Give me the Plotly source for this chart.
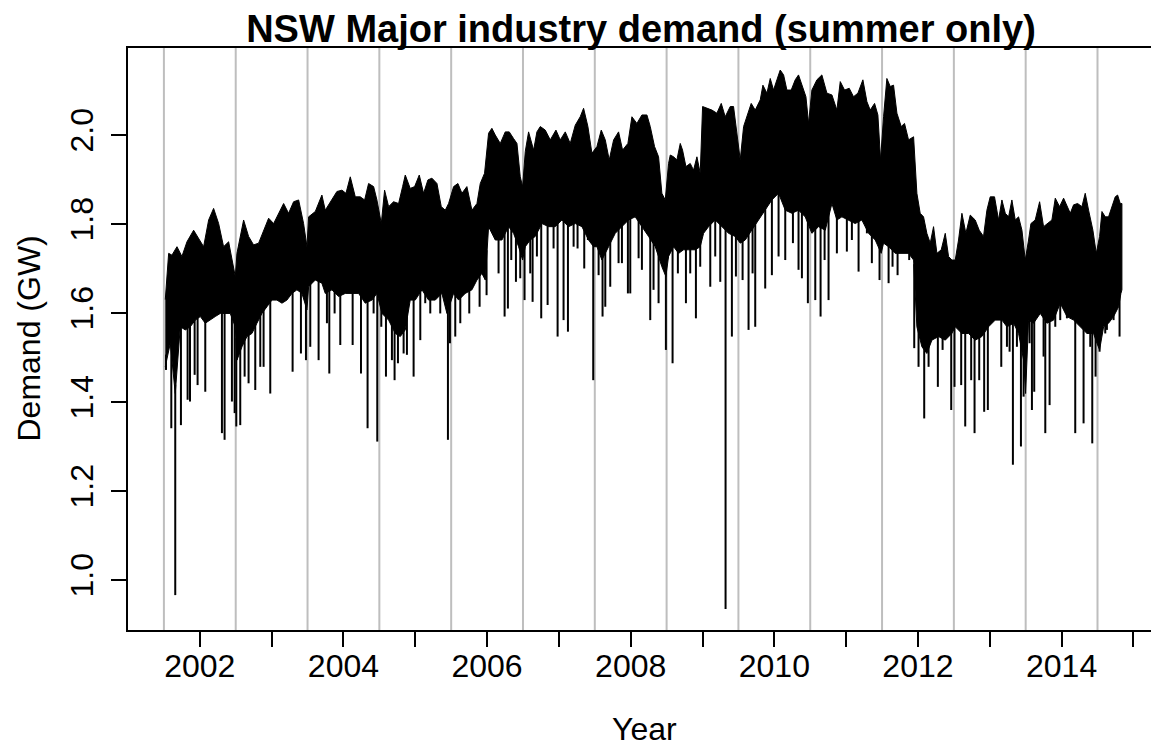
import numpy as np
import plotly.graph_objects as go

# ---------------- data (year, GW) ----------------
upper_year = [
    2001.519, 2001.566, 2001.612, 2001.682, 2001.751, 2001.821, 2001.914, 2001.983, 2002.053, 2002.123, 2002.192, 2002.262, 2002.331, 2002.401, 2002.447, 2002.494,
    2002.517, 2002.610, 2002.679, 2002.749, 2002.819, 2002.888, 2002.958, 2003.028, 2003.097, 2003.167, 2003.236, 2003.306, 2003.376, 2003.445, 2003.492,
    2003.515, 2003.608, 2003.700, 2003.747, 2003.840, 2003.909, 2003.979, 2004.035, 2004.095, 2004.165, 2004.234, 2004.295, 2004.350, 2004.420, 2004.466,
    2004.527, 2004.573, 2004.629, 2004.698, 2004.768, 2004.824, 2004.861, 2004.930, 2004.991, 2005.056, 2005.116, 2005.176, 2005.232, 2005.302, 2005.362, 2005.418, 2005.464,
    2005.534, 2005.594, 2005.650, 2005.719, 2005.789, 2005.859, 2005.905, 2005.965, 2006.021, 2006.067, 2006.114, 2006.184, 2006.253, 2006.309, 2006.369, 2006.416, 2006.462, 2006.495,
    2006.532, 2006.578, 2006.648, 2006.694, 2006.741, 2006.810, 2006.880, 2006.959, 2007.019, 2007.089, 2007.158, 2007.228, 2007.297, 2007.344, 2007.404, 2007.460,
    2007.530, 2007.590, 2007.646, 2007.701, 2007.762, 2007.831, 2007.887, 2007.961, 2008.017, 2008.086, 2008.156, 2008.226, 2008.272, 2008.332, 2008.388, 2008.434, 2008.481,
    2008.527, 2008.551, 2008.597, 2008.643, 2008.690, 2008.722, 2008.769, 2008.829, 2008.875, 2008.922, 2008.968, 2009.001, 2009.061, 2009.131, 2009.200, 2009.261, 2009.316, 2009.386, 2009.432, 2009.465,
    2009.525, 2009.572, 2009.618, 2009.678, 2009.734, 2009.804, 2009.841, 2009.897, 2009.943, 2009.989, 2010.036, 2010.082, 2010.129, 2010.175, 2010.235, 2010.291, 2010.337, 2010.393, 2010.440, 2010.477,
    2010.523, 2010.593, 2010.662, 2010.732, 2010.802, 2010.871, 2010.918, 2010.978, 2011.043, 2011.103, 2011.164, 2011.233, 2011.289, 2011.335, 2011.396, 2011.442, 2011.479,
    2011.521, 2011.567, 2011.614, 2011.660, 2011.707, 2011.767, 2011.813, 2011.869, 2011.939, 2011.985, 2012.031, 2012.078, 2012.124, 2012.171, 2012.217, 2012.264, 2012.324, 2012.380, 2012.426, 2012.472,
    2012.519, 2012.565, 2012.612, 2012.667, 2012.728, 2012.797, 2012.853, 2012.913, 2012.960, 2013.006, 2013.066, 2013.122, 2013.169, 2013.216, 2013.262, 2013.308, 2013.355, 2013.401, 2013.448, 2013.494,
    2013.540, 2013.573, 2013.633, 2013.694, 2013.749, 2013.805, 2013.865, 2013.912, 2013.972, 2014.028, 2014.074, 2014.121, 2014.167, 2014.223, 2014.283, 2014.329, 2014.376, 2014.436, 2014.483,
    2014.529, 2014.562, 2014.608, 2014.654, 2014.701, 2014.747, 2014.780, 2014.817, 2014.840,
]
upper_gw = [
    1.630, 1.734, 1.730, 1.749, 1.727, 1.760, 1.786, 1.768, 1.749, 1.809, 1.835, 1.801, 1.749, 1.760, 1.719, 1.682,
    1.734, 1.809, 1.772, 1.753, 1.757, 1.786, 1.813, 1.801, 1.824, 1.846, 1.824, 1.850, 1.854, 1.801, 1.749,
    1.816, 1.828, 1.865, 1.831, 1.854, 1.873, 1.876, 1.869, 1.906, 1.861, 1.861, 1.854, 1.891, 1.884, 1.854,
    1.801, 1.876, 1.839, 1.850, 1.846, 1.884, 1.910, 1.880, 1.884, 1.910, 1.869, 1.899, 1.903, 1.891, 1.839, 1.831, 1.846,
    1.884, 1.891, 1.869, 1.884, 1.831, 1.846, 1.891, 1.914, 2.004, 2.015, 2.000, 1.981, 2.007, 2.007, 1.992, 1.981, 1.906, 1.884,
    1.963, 2.007, 1.966, 2.007, 2.019, 2.011, 1.989, 2.011, 1.989, 2.007, 1.981, 2.022, 2.041, 2.060, 2.019, 1.959,
    1.974, 2.011, 1.989, 1.944, 1.989, 2.007, 1.966, 1.981, 2.041, 2.026, 2.045, 2.045, 2.019, 1.974, 1.951, 1.869, 1.854,
    1.936, 1.955, 1.951, 1.944, 1.981, 1.966, 1.929, 1.936, 1.921, 1.951, 1.914, 2.064, 2.060, 2.056, 2.049, 2.071, 2.041, 2.064, 2.064, 2.019,
    1.944, 2.019, 2.041, 2.071, 2.056, 2.079, 2.112, 2.094, 2.127, 2.101, 2.124, 2.146, 2.135, 2.101, 2.101, 2.124, 2.135, 2.109, 2.086, 2.026,
    2.101, 2.124, 2.135, 2.094, 2.090, 2.056, 2.120, 2.101, 2.105, 2.086, 2.094, 2.124, 2.075, 2.056, 2.071, 2.045, 1.944,
    2.041, 2.127, 2.109, 2.112, 2.049, 2.019, 2.026, 1.989, 1.996, 1.869, 1.824, 1.816, 1.779, 1.757, 1.794, 1.734, 1.742, 1.779, 1.727, 1.719,
    1.719, 1.764, 1.824, 1.779, 1.820, 1.809, 1.786, 1.772, 1.831, 1.861, 1.861, 1.809, 1.854, 1.824, 1.816, 1.854, 1.809, 1.816, 1.786, 1.719,
    1.764, 1.801, 1.809, 1.850, 1.794, 1.801, 1.809, 1.858, 1.839, 1.858, 1.839, 1.824, 1.843, 1.846, 1.839, 1.869, 1.831, 1.786, 1.734,
    1.772, 1.828, 1.816, 1.816, 1.839, 1.861, 1.865, 1.846, 1.846,
]

lower_year = [
    2001.519, 2001.589, 2001.658, 2001.728, 2001.798, 2001.867, 2001.937, 2002.007, 2002.076, 2002.146, 2002.215, 2002.285, 2002.355, 2002.424, 2002.494,
    2002.517, 2002.587, 2002.656, 2002.726, 2002.795, 2002.865, 2002.935, 2003.004, 2003.074, 2003.144, 2003.213, 2003.283, 2003.352, 2003.422, 2003.492,
    2003.515, 2003.608, 2003.700, 2003.747, 2003.840, 2003.933, 2004.025, 2004.118, 2004.211, 2004.304, 2004.397, 2004.466,
    2004.536, 2004.629, 2004.722, 2004.791, 2004.861, 2004.930, 2005.000, 2005.093, 2005.186, 2005.279, 2005.371, 2005.441,
    2005.534, 2005.604, 2005.696, 2005.789, 2005.859, 2005.928, 2005.975, 2006.021, 2006.067, 2006.114, 2006.207, 2006.300, 2006.369, 2006.439, 2006.495,
    2006.532, 2006.601, 2006.671, 2006.764, 2006.857, 2006.949, 2007.042, 2007.135, 2007.228, 2007.321, 2007.413, 2007.483,
    2007.530, 2007.599, 2007.692, 2007.785, 2007.878, 2007.970, 2008.063, 2008.156, 2008.249, 2008.342, 2008.434, 2008.490,
    2008.527, 2008.597, 2008.667, 2008.736, 2008.806, 2008.899, 2008.968, 2009.015, 2009.084, 2009.177, 2009.270, 2009.363, 2009.455,
    2009.525, 2009.595, 2009.688, 2009.780, 2009.873, 2009.966, 2010.059, 2010.152, 2010.245, 2010.337, 2010.430, 2010.486,
    2010.523, 2010.616, 2010.709, 2010.802, 2010.871, 2010.941, 2011.034, 2011.126, 2011.219, 2011.312, 2011.405, 2011.488,
    2011.521, 2011.591, 2011.683, 2011.776, 2011.869, 2011.939, 2011.985, 2012.055, 2012.124, 2012.194, 2012.287, 2012.380, 2012.472,
    2012.519, 2012.612, 2012.704, 2012.797, 2012.890, 2012.983, 2013.076, 2013.169, 2013.239, 2013.332, 2013.401, 2013.471, 2013.499,
    2013.540, 2013.610, 2013.703, 2013.796, 2013.889, 2013.981, 2014.074, 2014.167, 2014.260, 2014.353, 2014.445, 2014.492,
    2014.529, 2014.585, 2014.654, 2014.724, 2014.794, 2014.826, 2014.840,
]
lower_gw = [
    1.479, 1.532, 1.419, 1.569, 1.562, 1.569, 1.584, 1.592, 1.577, 1.584, 1.592, 1.599, 1.599, 1.599, 1.569,
    1.494, 1.524, 1.547, 1.554, 1.577, 1.599, 1.614, 1.629, 1.629, 1.622, 1.629, 1.644, 1.652, 1.644, 1.607,
    1.659, 1.674, 1.667, 1.644, 1.652, 1.637, 1.644, 1.644, 1.644, 1.622, 1.629, 1.644,
    1.599, 1.584, 1.554, 1.547, 1.562, 1.629, 1.629, 1.652, 1.629, 1.629, 1.644, 1.599,
    1.644, 1.629, 1.644, 1.652, 1.674, 1.689, 1.674, 1.794, 1.779, 1.764, 1.764, 1.794, 1.779, 1.749, 1.719,
    1.749, 1.764, 1.772, 1.801, 1.794, 1.794, 1.809, 1.794, 1.801, 1.794, 1.764, 1.749,
    1.749, 1.719, 1.749, 1.779, 1.794, 1.809, 1.816, 1.794, 1.772, 1.749, 1.704, 1.682,
    1.727, 1.749, 1.734, 1.742, 1.742, 1.742, 1.749, 1.779, 1.794, 1.809, 1.794, 1.779, 1.772,
    1.757, 1.764, 1.786, 1.809, 1.831, 1.854, 1.869, 1.831, 1.824, 1.831, 1.816, 1.794,
    1.779, 1.794, 1.786, 1.846, 1.809, 1.816, 1.809, 1.801, 1.809, 1.779, 1.764, 1.734,
    1.757, 1.749, 1.734, 1.734, 1.734, 1.719, 1.569, 1.524, 1.509, 1.539, 1.547, 1.539, 1.554,
    1.569, 1.554, 1.554, 1.539, 1.547, 1.569, 1.584, 1.584, 1.569, 1.577, 1.554, 1.494, 1.419,
    1.584, 1.577, 1.599, 1.577, 1.584, 1.622, 1.592, 1.584, 1.569, 1.554, 1.554, 1.532,
    1.517, 1.569, 1.577, 1.592, 1.614, 1.644, 1.652,
]

spike_year = [
    2001.529, 2001.603, 2001.658, 2001.737, 2001.830, 2001.863, 2001.928, 2001.969, 2002.076, 2002.308, 2002.345, 2002.447, 2002.485,
    2002.508, 2002.563, 2002.624, 2002.679, 2002.772, 2002.842, 2002.888, 2002.981, 2003.292, 2003.408, 2003.478,
    2003.538, 2003.654, 2003.770, 2003.803, 2003.877, 2003.956, 2004.128, 2004.244, 2004.336, 2004.420, 2004.471,
    2004.527, 2004.592, 2004.675, 2004.712, 2004.759, 2004.838, 2004.884, 2004.977, 2005.070, 2005.139, 2005.209, 2005.348, 2005.455, 2005.483,
    2005.557, 2005.627, 2005.752, 2005.896, 2005.993, 2006.160, 2006.244, 2006.290, 2006.337, 2006.402, 2006.462,
    2006.522, 2006.601, 2006.634, 2006.694, 2006.754, 2006.843, 2006.926, 2006.982, 2007.065, 2007.126, 2007.205, 2007.260, 2007.353, 2007.404, 2007.478,
    2007.553, 2007.608, 2007.646, 2007.715, 2007.831, 2007.878, 2007.961, 2007.994, 2008.110, 2008.156, 2008.272, 2008.318, 2008.388, 2008.490,
    2008.518, 2008.583, 2008.657, 2008.769, 2008.829, 2008.908, 2008.968, 2009.108, 2009.177, 2009.247, 2009.321, 2009.409, 2009.465,
    2009.558, 2009.641, 2009.697, 2009.734, 2009.873, 2009.966, 2010.059, 2010.152, 2010.259, 2010.337, 2010.384, 2010.467,
    2010.570, 2010.644, 2010.700, 2010.755, 2010.871, 2011.010, 2011.080, 2011.173, 2011.289, 2011.358, 2011.465,
    2011.591, 2011.646, 2011.716, 2011.878, 2011.948, 2012.008, 2012.087, 2012.148, 2012.277, 2012.343, 2012.403, 2012.463,
    2012.509, 2012.602, 2012.658, 2012.741, 2012.788, 2012.853, 2012.922, 2012.973, 2013.052, 2013.160, 2013.239, 2013.276, 2013.322, 2013.378, 2013.434, 2013.471,
    2013.554, 2013.587, 2013.619, 2013.749, 2013.773, 2013.833, 2013.912, 2013.981, 2014.074, 2014.190, 2014.306, 2014.399, 2014.427, 2014.473,
    2014.529, 2014.608, 2014.631, 2014.724, 2014.807,
]
spike_gw = [
    1.472, 1.341, 0.966, 1.348, 1.405, 1.401, 1.461, 1.438, 1.423, 1.330, 1.315, 1.401, 1.375,
    1.345, 1.348, 1.457, 1.442, 1.427, 1.479, 1.479, 1.419, 1.468, 1.509, 1.494,
    1.524, 1.494, 1.577, 1.464, 1.599, 1.528, 1.528, 1.464, 1.341, 1.599, 1.311,
    1.569, 1.457, 1.494, 1.449, 1.487, 1.509, 1.506, 1.457, 1.539, 1.622, 1.599, 1.599, 1.315, 1.532,
    1.547, 1.577, 1.599, 1.614, 1.640, 1.689, 1.592, 1.610, 1.719, 1.670, 1.678,
    1.629, 1.689, 1.625, 1.727, 1.588, 1.618, 1.745, 1.547, 1.584, 1.558, 1.749, 1.745, 1.700, 1.764, 1.449,
    1.685, 1.592, 1.614, 1.659, 1.712, 1.712, 1.644, 1.644, 1.723, 1.697, 1.584, 1.652, 1.622, 1.517,
    1.723, 1.487, 1.689, 1.622, 1.689, 1.588, 1.704, 1.659, 1.727, 1.670, 0.935, 1.547, 1.682,
    1.674, 1.562, 1.689, 1.569, 1.655, 1.685, 1.727, 1.719, 1.757, 1.697, 1.678, 1.622,
    1.629, 1.592, 1.719, 1.629, 1.734, 1.738, 1.764, 1.693, 1.779, 1.712, 1.674,
    1.667, 1.704, 1.685, 1.719, 1.521, 1.479, 1.363, 1.479, 1.434, 1.517, 1.569, 1.382,
    1.434, 1.438, 1.345, 1.449, 1.330, 1.449, 1.378, 1.382, 1.584, 1.479, 1.524, 1.513, 1.259, 1.524, 1.300, 1.412,
    1.532, 1.382, 1.423, 1.502, 1.330, 1.393, 1.569, 1.584, 1.588, 1.330, 1.352, 1.524, 1.307, 1.457,
    1.513, 1.554, 1.562, 1.584, 1.547,
]

season_breaks = [2001.5, 2002.5, 2003.5, 2004.5, 2005.5, 2006.5, 2007.5,
                 2008.5, 2009.5, 2010.5, 2011.5, 2012.5, 2013.5, 2014.5]
x_tick_years = list(range(2002, 2016))
x_tick_labels = [str(y) if y % 2 == 0 else "" for y in x_tick_years]
y_tick_values = [1.0, 1.2, 1.4, 1.6, 1.8, 2.0]
y_tick_labels = ["1.0", "1.2", "1.4", "1.6", "1.8", "2.0"]

# ---------------- figure ----------------
FONT = "Liberation Sans, Arial, sans-serif"
W, H = 1151, 746
ML, MT, MB = 128, 48, 116
AX = 32

fig = go.Figure()

# dense demand band (upper envelope forward, lower envelope back)
fig.add_trace(go.Scatter(
    x=upper_year + lower_year[::-1],
    y=upper_gw + lower_gw[::-1],
    mode="lines", fill="toself", fillcolor="black",
    line=dict(color="black", width=1), hoverinfo="skip", showlegend=False))

# downward needles of low-demand half-hours
lo_y = np.array(lower_year)
lo_v = np.array(lower_gw)
sx, sy = [], []
for yr, v in zip(spike_year, spike_gw):
    top = float(np.interp(yr, lo_y, lo_v)) + 0.02
    sx += [yr, yr, None]
    sy += [v, top, None]
fig.add_trace(go.Scatter(x=sx, y=sy, mode="lines",
                         line=dict(color="black", width=2),
                         hoverinfo="skip", showlegend=False))

shapes = [dict(type="line", xref="x", yref="paper", x0=b, x1=b, y0=0, y1=1,
               line=dict(color="#BEBEBE", width=2), layer="below")
          for b in season_breaks]

fig.update_layout(
    width=W, height=H,
    margin=dict(l=ML, r=0, t=MT, b=MB, pad=0),
    paper_bgcolor="white", plot_bgcolor="white",
    font=dict(family=FONT, size=AX, color="black"),
    shapes=shapes,
    showlegend=False,
    title=dict(text="<b>NSW Major industry demand (summer only)</b>",
               font=dict(family=FONT, size=38, color="black"),
               xref="container", x=641 / W, xanchor="center",
               yref="container", y=1 - 29 / H, yanchor="middle"),
    xaxis=dict(range=[2001.0, 2015.245], tickmode="array",
               tickvals=x_tick_years, ticktext=x_tick_labels,
               ticks="outside", ticklen=15, tickwidth=2, tickcolor="black",
               ticklabelstandoff=-8,
               showline=True, linecolor="black", linewidth=2, mirror=True,
               showgrid=False, zeroline=False,
               tickfont=dict(family=FONT, size=AX)),
    yaxis=dict(range=[0.8876, 2.1955], tickmode="array",
               tickvals=y_tick_values, ticktext=y_tick_labels,
               tickangle=-90,
               ticks="outside", ticklen=15, tickwidth=2, tickcolor="black",
               ticklabelstandoff=5,
               showline=True, linecolor="black", linewidth=2, mirror=False,
               showgrid=False, zeroline=False,
               tickfont=dict(family=FONT, size=AX)),
    annotations=[
        dict(text="Year", xref="paper", yref="paper",
             x=(644 - ML) / (W - ML), y=(630 - 729) / (630 - MT),
             xanchor="center", yanchor="middle", showarrow=False,
             font=dict(family=FONT, size=AX)),
        dict(text="Demand (GW)", xref="paper", yref="paper",
             x=(28.5 - ML) / (W - ML), y=0.5, textangle=-90,
             xanchor="center", yanchor="middle", showarrow=False,
             font=dict(family=FONT, size=AX)),
    ],
)

fig.write_html("out.html",
               config={"displayModeBar": False},
               post_script="document.body.style.margin='0';document.body.style.overflow='hidden';")
